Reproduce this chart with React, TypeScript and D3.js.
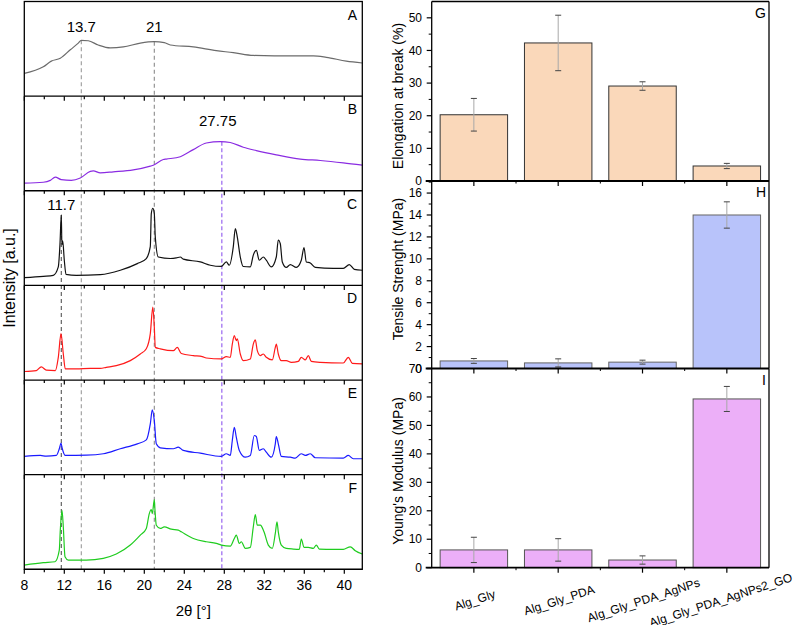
import * as d3 from 'd3';

type Pt = [number, number];

// XRD patterns, 2θ (deg) vs normalised intensity (a.u.)
const patternA: Pt[] = [[8.0,0.24],[9.9,0.31],[10.7,0.37],[11.6,0.40],[12.6,0.49],[13.4,0.56],[13.7,0.59],[14.4,0.585],[15.4,0.54],[16.6,0.51],[17.9,0.52],[19.6,0.56],[21.0,0.575],[22.0,0.565],[22.6,0.54],[24.9,0.52],[27.2,0.48],[28.9,0.46],[30.9,0.43],[33.0,0.425],[34.9,0.425],[36.9,0.425],[38.2,0.41],[40.2,0.37],[41.8,0.35]];
const patternB: Pt[] = [[8.0,0.08],[9.9,0.09],[10.6,0.11],[11.1,0.145],[11.7,0.117],[12.7,0.11],[13.6,0.135],[14.6,0.205],[14.9,0.21],[15.6,0.19],[16.9,0.2],[18.9,0.22],[20.6,0.26],[20.9,0.27],[21.9,0.33],[22.2,0.335],[23.6,0.36],[24.9,0.435],[26.2,0.505],[27.6,0.52],[28.6,0.51],[29.9,0.46],[31.2,0.425],[33.2,0.38],[35.6,0.335],[37.6,0.32],[39.9,0.295],[41.8,0.27]];
const patternC: Pt[] = [[8.0,0.082],[9.9,0.096],[10.9,0.106],[11.4,0.195],[11.57,0.44],[11.7,0.745],[11.76,0.43],[11.84,0.47],[12.0,0.266],[12.17,0.117],[13.2,0.106],[15.6,0.114],[17.6,0.16],[19.3,0.23],[20.2,0.284],[20.6,0.41],[20.7,0.76],[20.85,0.815],[21.0,0.76],[21.1,0.51],[21.4,0.30],[22.6,0.284],[23.2,0.29],[23.6,0.30],[23.9,0.277],[25.6,0.248],[26.6,0.213],[27.7,0.20],[28.2,0.248],[28.5,0.213],[28.9,0.41],[29.1,0.60],[29.3,0.51],[29.6,0.30],[29.9,0.20],[30.6,0.195],[30.9,0.32],[31.2,0.37],[31.5,0.266],[31.9,0.30],[32.2,0.266],[32.7,0.195],[33.2,0.30],[33.4,0.48],[33.6,0.44],[33.8,0.248],[34.2,0.19],[34.6,0.22],[35.2,0.19],[35.7,0.266],[35.97,0.40],[36.2,0.248],[36.6,0.237],[37.1,0.19],[38.9,0.18],[39.9,0.18],[40.5,0.22],[41.0,0.17],[41.8,0.16]];
const patternD: Pt[] = [[8.0,0.09],[9.2,0.1],[9.7,0.14],[10.2,0.105],[11.1,0.1],[11.4,0.24],[11.67,0.49],[11.9,0.275],[12.1,0.117],[13.2,0.117],[14.6,0.123],[15.6,0.123],[16.2,0.134],[17.2,0.152],[18.6,0.205],[19.6,0.275],[20.2,0.33],[20.6,0.49],[20.85,0.77],[21.0,0.56],[21.1,0.345],[21.6,0.33],[22.9,0.31],[23.3,0.345],[23.7,0.28],[24.9,0.258],[25.8,0.247],[26.2,0.233],[27.7,0.223],[28.2,0.247],[28.6,0.24],[28.8,0.38],[29.0,0.47],[29.2,0.417],[29.3,0.435],[29.6,0.275],[29.9,0.205],[30.6,0.223],[30.9,0.38],[31.1,0.424],[31.3,0.31],[31.6,0.258],[31.9,0.275],[32.2,0.24],[32.8,0.212],[33.1,0.345],[33.2,0.38],[33.4,0.275],[33.7,0.205],[34.2,0.205],[34.7,0.187],[35.4,0.197],[35.7,0.24],[36.1,0.212],[36.4,0.258],[36.7,0.197],[37.6,0.187],[39.9,0.18],[40.4,0.24],[40.8,0.176],[41.8,0.17]];
const patternE: Pt[] = [[8.0,0.193],[9.6,0.203],[10.2,0.196],[11.2,0.203],[11.5,0.274],[11.67,0.333],[11.8,0.274],[12.1,0.203],[14.2,0.206],[15.9,0.221],[17.6,0.274],[19.3,0.326],[20.2,0.368],[20.6,0.537],[20.8,0.684],[21.0,0.571],[21.2,0.326],[21.6,0.284],[22.9,0.274],[23.4,0.29],[23.9,0.256],[25.6,0.227],[27.7,0.193],[28.2,0.221],[28.6,0.203],[28.8,0.361],[29.0,0.501],[29.2,0.396],[29.5,0.256],[30.1,0.185],[30.6,0.203],[31.0,0.414],[31.2,0.403],[31.5,0.256],[31.9,0.274],[32.2,0.238],[32.7,0.185],[33.1,0.326],[33.2,0.403],[33.4,0.326],[33.7,0.193],[34.6,0.185],[35.1,0.175],[35.7,0.221],[36.1,0.203],[36.6,0.221],[37.1,0.179],[39.9,0.175],[40.4,0.203],[40.9,0.168],[41.8,0.168]];
const patternF: Pt[] = [[8.0,0.045],[9.9,0.07],[11.07,0.08],[11.5,0.203],[11.6,0.414],[11.77,0.624],[11.9,0.448],[12.07,0.133],[12.4,0.098],[14.2,0.098],[15.9,0.116],[17.2,0.161],[18.6,0.256],[19.6,0.361],[20.2,0.432],[20.5,0.589],[20.7,0.632],[20.8,0.589],[21.0,0.737],[21.07,0.624],[21.2,0.466],[21.6,0.432],[22.0,0.448],[22.7,0.424],[23.4,0.414],[23.7,0.396],[24.9,0.326],[26.2,0.291],[27.2,0.274],[27.7,0.256],[28.6,0.245],[29.0,0.326],[29.2,0.361],[29.5,0.274],[29.7,0.291],[30.1,0.221],[30.6,0.232],[30.9,0.448],[31.1,0.579],[31.3,0.466],[31.6,0.466],[31.97,0.396],[32.4,0.256],[32.8,0.221],[33.1,0.379],[33.27,0.501],[33.4,0.396],[33.7,0.256],[34.2,0.221],[34.9,0.214],[35.5,0.211],[35.7,0.319],[35.97,0.232],[36.4,0.232],[36.9,0.221],[37.2,0.256],[37.5,0.214],[38.9,0.211],[39.9,0.211],[40.6,0.238],[41.1,0.196],[41.8,0.161]];

const patterns = [patternA, patternB, patternC, patternD, patternE, patternF];
const patternLetters = ['A', 'B', 'C', 'D', 'E', 'F'];
const xrdTicks = [8, 12, 16, 20, 24, 28, 32, 36, 40];

// reference reflections and the pattern each one is labelled on
const peakPositions = [13.7, 21, 27.75, 11.7];
const peakLabels = ['13.7', '21', '27.75', '11.7'];
const peakPattern = [0, 0, 1, 2];

// mechanical tests
const samples = ['Alg_Gly', 'Alg_Gly_PDA', 'Alg_Gly_PDA_AgNPs', 'Alg_Gly_PDA_AgNPs2_GO'];
const elongation = [20.3, 42.3, 29.1, 4.6];
const elongationErr = [5.0, 8.5, 1.3, 0.8];
const tensile = [0.69, 0.51, 0.58, 14.0];
const tensileErr = [0.22, 0.37, 0.18, 1.2];
const modulus = [6.25, 6.25, 2.7, 59.3];
const modulusErr = [4.45, 3.95, 1.45, 4.4];
const elongationTicks = [0, 10, 20, 30, 40, 50];
const tensileTicks = [0, 2, 4, 6, 8, 10, 12, 14, 16];
const modulusTicks = [0, 10, 20, 30, 40, 50, 60, 70];

const FONT = '"Liberation Sans", Arial, sans-serif';
const lineColors = ['#6b6b6b', '#8a2be2', '#111111', '#ff1a1a', '#1a1aff', '#1fcc1f'];
const peakColors = ['#9a9a9a', '#8a8a8a', '#a77cf2', '#555555'];

// left block geometry
const L = { x0: 24.3, x1: 362.3, top: 1.5, bottom: 569.3 };
const panelH = (L.bottom - L.top) / 6;
const x = d3.scaleLinear().domain([8, 41.8]).range([L.x0, L.x1]);
const yPanel = (i: number) =>
  d3.scaleLinear().domain([0, 1]).range([L.top + (i + 1) * panelH, L.top + i * panelH]);

const valueAt = (pts: Pt[], t: number) => {
  const i = d3.bisector((d: Pt) => d[0]).left(pts, t);
  if (i <= 0) return pts[0][1];
  const [xa, ya] = pts[i - 1];
  const [xb, yb] = pts[i];
  return ya + ((t - xa) / (xb - xa)) * (yb - ya);
};

// right block geometry
const R = { x0: 431.7, x1: 769 };
const xb = d3.scaleBand().domain(samples).range([R.x0, R.x1]).paddingInner(0.2).paddingOuter(0.1);

const barPanels = [
  { letter: 'G', title: 'Elongation at break (%)', values: elongation, errs: elongationErr, ticks: elongationTicks, minor: 5, max: 55, top: 1.5, bottom: 181, fill: '#fad8ba', stroke: '#333', titleY: 96 },
  { letter: 'H', title: 'Tensile Strenght (MPa)', values: tensile, errs: tensileErr, ticks: tensileTicks, minor: 1, max: 17.1, top: 181, bottom: 368.5, fill: '#b8c3fa', stroke: '#666', titleY: 269 },
  { letter: 'I', title: "Young's Modulus (MPa)", values: modulus, errs: modulusErr, ticks: modulusTicks, minor: 5, max: 70, top: 368.5, bottom: 567.7, fill: '#ecaff8', stroke: '#555', titleY: 471 },
];

function XrdBlock() {
  const line = d3.line<Pt>().x(d => x(d[0])).y(d => d[1]).curve(d3.curveMonotoneX);
  const minorTicks = d3.range(8, 42, 2);
  return (
    <g>
      {/* guide lines for the reflections */}
      {peakPositions.map((p, k) => {
        const y = yPanel(peakPattern[k]);
        const y0 = y(valueAt(patterns[peakPattern[k]], p));
        return (
          <g key={'pk' + k}>
            <line x1={x(p)} x2={x(p)} y1={y0} y2={L.bottom} stroke={peakColors[k]}
              strokeWidth={k === 2 ? 1.4 : 1.1} strokeDasharray={k === 2 ? '4,2.5' : '4,3'} />
            <text x={x(p) - (k === 2 ? 4 : 0)} y={y.range()[1] + (k === 3 ? 19 : 30)} textAnchor="middle" fontSize={15}>
              {peakLabels[k]}
            </text>
          </g>
        );
      })}
      {patterns.map((pts, i) => {
        const y = yPanel(i);
        const data = pts.map(d => [d[0], y(d[1])] as Pt);
        const yb = y.range()[0];
        return (
          <g key={'pat' + i}>
            <path d={line(data) ?? ''} fill="none" stroke={lineColors[i]} strokeWidth={1.2} />
            {minorTicks.map(t => (
              <line key={t} x1={x(t)} x2={x(t)} y1={yb} y2={yb + (t % 4 === 0 ? 4.5 : 3)} stroke="#000" strokeWidth={1.2} />
            ))}
            <line x1={L.x0} x2={L.x1} y1={yb} y2={yb} stroke="#000" strokeWidth={1.3} />
            <text x={357} y={y.range()[1] + 18} textAnchor="end" fontSize={14}>{patternLetters[i]}</text>
          </g>
        );
      })}
      <rect x={L.x0} y={L.top} width={L.x1 - L.x0} height={L.bottom - L.top} fill="none" stroke="#000" strokeWidth={1.3} />
      {xrdTicks.map(t => (
        <text key={t} x={x(t)} y={590} textAnchor="middle" fontSize={14}>{t}</text>
      ))}
      <text x={x(24.9)} y={616} textAnchor="middle" fontSize={15}>2θ [°]</text>
      <text transform="translate(15,278) rotate(-90)" textAnchor="middle" fontSize={16}>Intensity [a.u.]</text>
    </g>
  );
}

function BarBlock() {
  return (
    <g>
      {barPanels.map(p => {
        const y = d3.scaleLinear().domain([0, p.max]).range([p.bottom, p.top]);
        const minor = d3.range(0, p.max, p.minor).filter(v => !p.ticks.includes(v));
        const bw = xb.bandwidth();
        const bounds = samples.slice(1).map(s => (xb(s) ?? 0) - xb.step() * xb.paddingInner() / 2);
        return (
          <g key={p.letter}>
            {samples.map((s, i) => {
              const x0 = xb(s) ?? 0;
              const cx = x0 + bw / 2;
              const v = p.values[i];
              const e = p.errs[i];
              return (
                <g key={s}>
                  <rect x={x0} y={y(v)} width={bw} height={y(0) - y(v)} fill={p.fill} stroke={p.stroke} strokeWidth={1} />
                  <line x1={cx} x2={cx} y1={y(v + e)} y2={y(Math.max(v - e, 0))} stroke="#a8a8a8" strokeWidth={1} />
                  <line x1={cx - 3} x2={cx + 3} y1={y(v + e)} y2={y(v + e)} stroke="#444" strokeWidth={1} />
                  <line x1={cx - 3} x2={cx + 3} y1={y(v - e)} y2={y(v - e)} stroke="#444" strokeWidth={1} />
                  <line x1={cx} x2={cx} y1={p.bottom} y2={p.bottom + 5} stroke="#000" strokeWidth={1.2} />
                </g>
              );
            })}
            {bounds.map((bx, i) => (
              <line key={'b' + i} x1={bx} x2={bx} y1={p.bottom} y2={p.bottom + 2.5} stroke="#000" strokeWidth={1} />
            ))}
            {/* y axis */}
            <line x1={R.x0} x2={R.x0} y1={p.top} y2={p.bottom} stroke="#000" strokeWidth={1.3} />
            <line x1={R.x1} x2={R.x1} y1={p.top} y2={p.bottom} stroke="#000" strokeWidth={1.3} />
            <line x1={R.x0 - 6} x2={R.x1} y1={p.bottom} y2={p.bottom} stroke="#000" strokeWidth={1.8} />
            {p.ticks.map(t => (
              <g key={'t' + t}>
                <line x1={R.x0 - 5} x2={R.x0} y1={y(t)} y2={y(t)} stroke="#000" strokeWidth={1.2} />
                <text x={422} y={y(t)} dy="0.35em" textAnchor="end" fontSize={12}>{t}</text>
              </g>
            ))}
            {minor.map(t => (
              <line key={'m' + t} x1={R.x0 - 3} x2={R.x0} y1={y(t)} y2={y(t)} stroke="#000" strokeWidth={1} />
            ))}
            <text x={766} y={p.top + 16} textAnchor="end" fontSize={14}>{p.letter}</text>
            <text transform={`translate(403,${p.titleY}) rotate(-90)`} textAnchor="middle" fontSize={14}>{p.title}</text>
          </g>
        );
      })}
      <line x1={R.x0} x2={R.x1} y1={1.5} y2={1.5} stroke="#000" strokeWidth={1.3} />
      {samples.map((s, i) => (
        <text key={s} transform={`translate(${(xb(s) ?? 0) + xb.bandwidth() / 2 + (i === 3 ? -6 : 1)},600) rotate(-18)`}
          textAnchor="middle" dy="0.35em" fontSize={12}>{s}</text>
      ))}
    </g>
  );
}

export default function App() {
  return (
    <svg width={800} height={625} style={{ position: 'absolute', left: 0, top: 0, background: '#fff' }}
      fontFamily={FONT}>
      <rect width={800} height={625} fill="#fff" />
      <XrdBlock />
      <BarBlock />
    </svg>
  );
}
